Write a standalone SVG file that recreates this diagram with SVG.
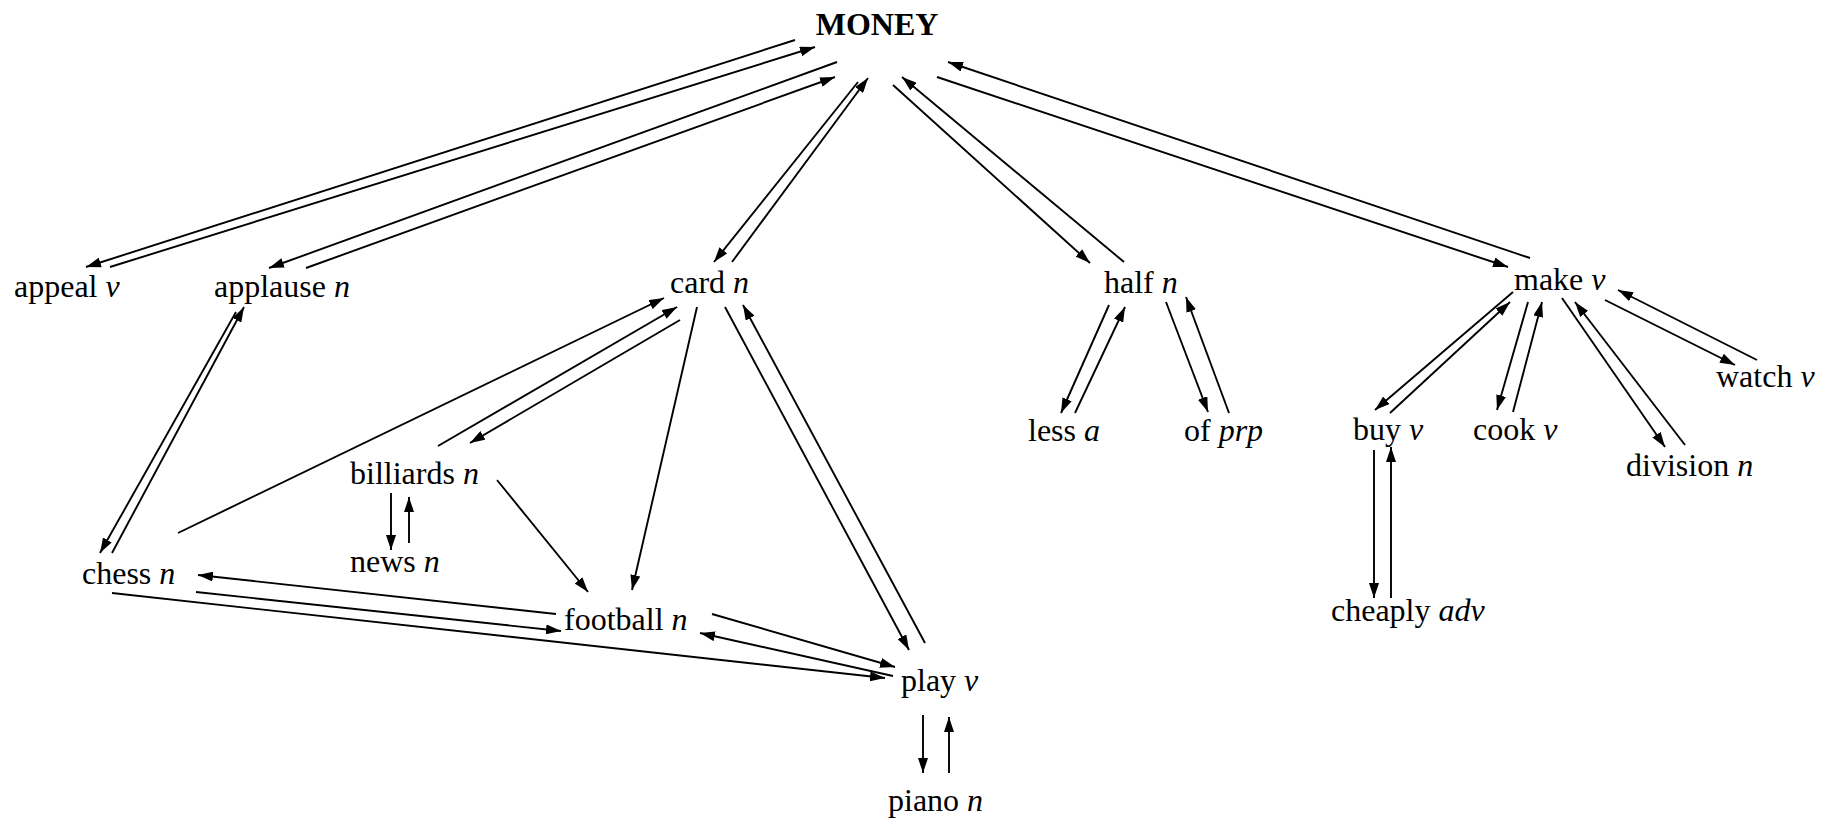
<svg xmlns="http://www.w3.org/2000/svg" width="1837" height="824" viewBox="0 0 1837 824">
<defs>
<marker id="ah" markerUnits="userSpaceOnUse" markerWidth="16" markerHeight="10" refX="15" refY="5" orient="auto">
<path d="M0,0 L15,5 L0,10 z" fill="#000"/>
</marker>
<style>
.lbl{font-family:"Liberation Serif","Times New Roman",serif;font-size:32px;fill:#000}
.root{font-family:"Liberation Serif","Times New Roman",serif;font-size:32px;font-weight:bold;fill:#000}
.it{font-style:italic}
.c line{stroke:#000;stroke-width:1.9;marker-end:url(#ah)}
</style>
</defs>
<rect width="1837" height="824" fill="#fff"/>
<g class="c" id="connectors">
<line x1="795" y1="40" x2="86" y2="267"/>
<line x1="110" y1="267" x2="815" y2="47"/>
<line x1="837" y1="62" x2="269" y2="268"/>
<line x1="306" y1="268" x2="835" y2="77"/>
<line x1="858" y1="82" x2="714" y2="262"/>
<line x1="732" y1="262" x2="868" y2="78"/>
<line x1="893" y1="85" x2="1090" y2="263"/>
<line x1="1124" y1="262" x2="902" y2="77"/>
<line x1="937" y1="77" x2="1508" y2="267"/>
<line x1="1530" y1="258" x2="948" y2="62"/>
<line x1="236" y1="312" x2="100" y2="553"/>
<line x1="112" y1="553" x2="244" y2="307"/>
<line x1="178" y1="533" x2="664" y2="298"/>
<line x1="438" y1="446" x2="677" y2="307"/>
<line x1="680" y1="320" x2="470" y2="443"/>
<line x1="697" y1="307" x2="632" y2="590"/>
<line x1="497" y1="480" x2="588" y2="592"/>
<line x1="391" y1="493" x2="391" y2="550"/>
<line x1="409" y1="543" x2="409" y2="497"/>
<line x1="725" y1="307" x2="909" y2="650"/>
<line x1="925" y1="643" x2="743" y2="305"/>
<line x1="556" y1="614" x2="198" y2="575"/>
<line x1="196" y1="592" x2="561" y2="631"/>
<line x1="112" y1="593" x2="885" y2="678"/>
<line x1="712" y1="614" x2="895" y2="667"/>
<line x1="893" y1="676" x2="700" y2="633"/>
<line x1="923" y1="715" x2="923" y2="773"/>
<line x1="949" y1="773" x2="949" y2="717"/>
<line x1="1109" y1="305" x2="1061" y2="413"/>
<line x1="1075" y1="413" x2="1125" y2="307"/>
<line x1="1166" y1="302" x2="1208" y2="412"/>
<line x1="1229" y1="413" x2="1186" y2="297"/>
<line x1="1513" y1="292" x2="1375" y2="410"/>
<line x1="1390" y1="413" x2="1510" y2="302"/>
<line x1="1528" y1="302" x2="1497" y2="410"/>
<line x1="1513" y1="412" x2="1542" y2="302"/>
<line x1="1562" y1="298" x2="1665" y2="447"/>
<line x1="1685" y1="445" x2="1575" y2="302"/>
<line x1="1605" y1="300" x2="1735" y2="365"/>
<line x1="1757" y1="360" x2="1618" y2="290"/>
<line x1="1374" y1="450" x2="1374" y2="598"/>
<line x1="1391" y1="598" x2="1391" y2="447"/>
</g>
<g id="money"><text class="root" x="877" y="35" text-anchor="middle">MONEY</text></g>
<g id="appeal"><text class="lbl" x="14" y="297">appeal <tspan class="it">v</tspan></text></g>
<g id="applause"><text class="lbl" x="214" y="297">applause <tspan class="it">n</tspan></text></g>
<g id="card"><text class="lbl" x="670" y="293">card <tspan class="it">n</tspan></text></g>
<g id="half"><text class="lbl" x="1104" y="293">half <tspan class="it">n</tspan></text></g>
<g id="make"><text class="lbl" x="1514" y="290">make <tspan class="it">v</tspan></text></g>
<g id="watch"><text class="lbl" x="1716" y="387">watch <tspan class="it">v</tspan></text></g>
<g id="less"><text class="lbl" x="1028" y="441">less <tspan class="it">a</tspan></text></g>
<g id="of"><text class="lbl" x="1184" y="441">of <tspan class="it">prp</tspan></text></g>
<g id="buy"><text class="lbl" x="1353" y="440">buy <tspan class="it">v</tspan></text></g>
<g id="cook"><text class="lbl" x="1473" y="440">cook <tspan class="it">v</tspan></text></g>
<g id="division"><text class="lbl" x="1626" y="476">division <tspan class="it">n</tspan></text></g>
<g id="cheaply"><text class="lbl" x="1331" y="621">cheaply <tspan class="it">adv</tspan></text></g>
<g id="billiards"><text class="lbl" x="350" y="484">billiards <tspan class="it">n</tspan></text></g>
<g id="news"><text class="lbl" x="350" y="572">news <tspan class="it">n</tspan></text></g>
<g id="chess"><text class="lbl" x="82" y="584">chess <tspan class="it">n</tspan></text></g>
<g id="football"><text class="lbl" x="564" y="630">football <tspan class="it">n</tspan></text></g>
<g id="play"><text class="lbl" x="901" y="691">play <tspan class="it">v</tspan></text></g>
<g id="piano"><text class="lbl" x="888" y="811">piano <tspan class="it">n</tspan></text></g>
</svg>
